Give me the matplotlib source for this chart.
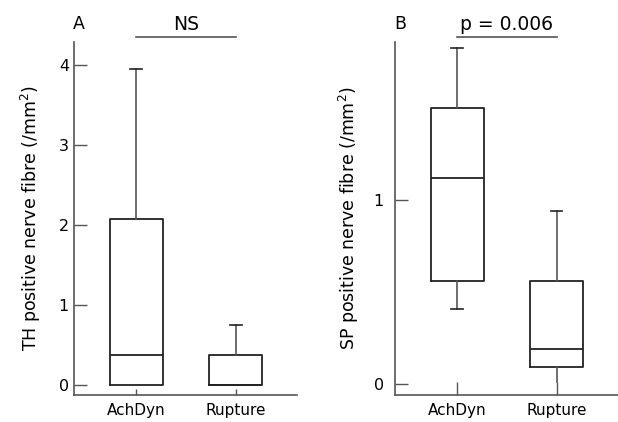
import matplotlib
matplotlib.use('Agg')
import matplotlib.pyplot as plt

plt.rcParams['font.family'] = ['DejaVu Sans']

groups = ['AchDyn', 'Rupture']
# panel A: TH positive nerve fibre
th_whislo = [0.0, 0.0]
th_q1 = [0.0, 0.0]
th_med = [0.38, 0.0]
th_q3 = [2.07, 0.38]
th_whishi = [3.95, 0.75]
# panel B: SP positive nerve fibre
sp_whislo = [0.41, 0.01]
sp_q1 = [0.56, 0.09]
sp_med = [1.12, 0.19]
sp_q3 = [1.50, 0.56]
sp_whishi = [1.83, 0.94]

box_col = '#222222'
ax_col = '#555555'


def make_stats(lo, q1, med, q3, hi):
    return [dict(whislo=lo[i], q1=q1[i], med=med[i], q3=q3[i], whishi=hi[i],
                 fliers=[], label=groups[i]) for i in range(len(groups))]


def draw(ax, stats, ylim, yticks, ylabel, letter, sig, ypad, xtlen, labx):
    bp = ax.bxp(stats, positions=[1, 2], widths=0.53, capwidths=0.12, showfliers=False,
                boxprops=dict(color=box_col, lw=1.3),
                medianprops=dict(color=box_col, lw=1.3),
                whiskerprops=dict(color=ax_col, lw=1.2),
                capprops=dict(color=box_col, lw=1.2))
    # no cap drawn where the lower whisker runs down to zero
    for i, st in enumerate(stats):
        if st['whislo'] < 0.05:
            bp['caps'][2 * i].set_visible(False)
    ax.set_xlim(0.37, 2.62)
    ax.set_ylim(*ylim)
    ax.set_yticks(yticks)
    ax.set_yticklabels([str(t) for t in yticks])
    for s in ['top', 'right']:
        ax.spines[s].set_visible(False)
    for s in ['left', 'bottom']:
        ax.spines[s].set_color(ax_col)
        ax.spines[s].set_linewidth(1.2)
    ax.tick_params(axis='y', direction='in', length=9.4, width=1.0, color=ax_col,
                   pad=ypad, labelsize=11.5)
    ax.tick_params(axis='x', direction='in', length=xtlen, width=1.0, color=ax_col,
                   pad=6, labelsize=11)
    ax.set_ylabel(ylabel, fontsize=12.5)
    ax.yaxis.set_label_coords(labx, 0.5)
    # significance bar
    top = ylim[1]
    rng = ylim[1] - ylim[0]
    ax.plot([1, 2], [top + 0.013 * rng, top + 0.013 * rng], color=ax_col, lw=1.2,
            clip_on=False)
    ax.text(1.5, top + 0.05 * rng, sig, ha='center', va='center', fontsize=13.5)
    ax.text(0.42, top + 0.05 * rng, letter, ha='center', va='center', fontsize=12.5)


fig = plt.figure(figsize=(6.18, 4.22), dpi=100)
ax1 = fig.add_axes([0.1197, 0.064, 0.361, 0.8365])
ax2 = fig.add_axes([0.639, 0.064, 0.361, 0.8365])

draw(ax1, make_stats(th_whislo, th_q1, th_med, th_q3, th_whishi), (-0.125, 4.29),
     [0, 1, 2, 3, 4], 'TH positive nerve fibre (/mm$^2$)', 'A', 'NS', 3.6, 4.5, -0.14)
draw(ax2, make_stats(sp_whislo, sp_q1, sp_med, sp_q3, sp_whishi), (-0.06, 1.861),
     [0, 1], 'SP positive nerve fibre (/mm$^2$)', 'B', 'p = 0.006', 8, 9.4, -0.15)

fig.savefig('out.png', dpi=100)
